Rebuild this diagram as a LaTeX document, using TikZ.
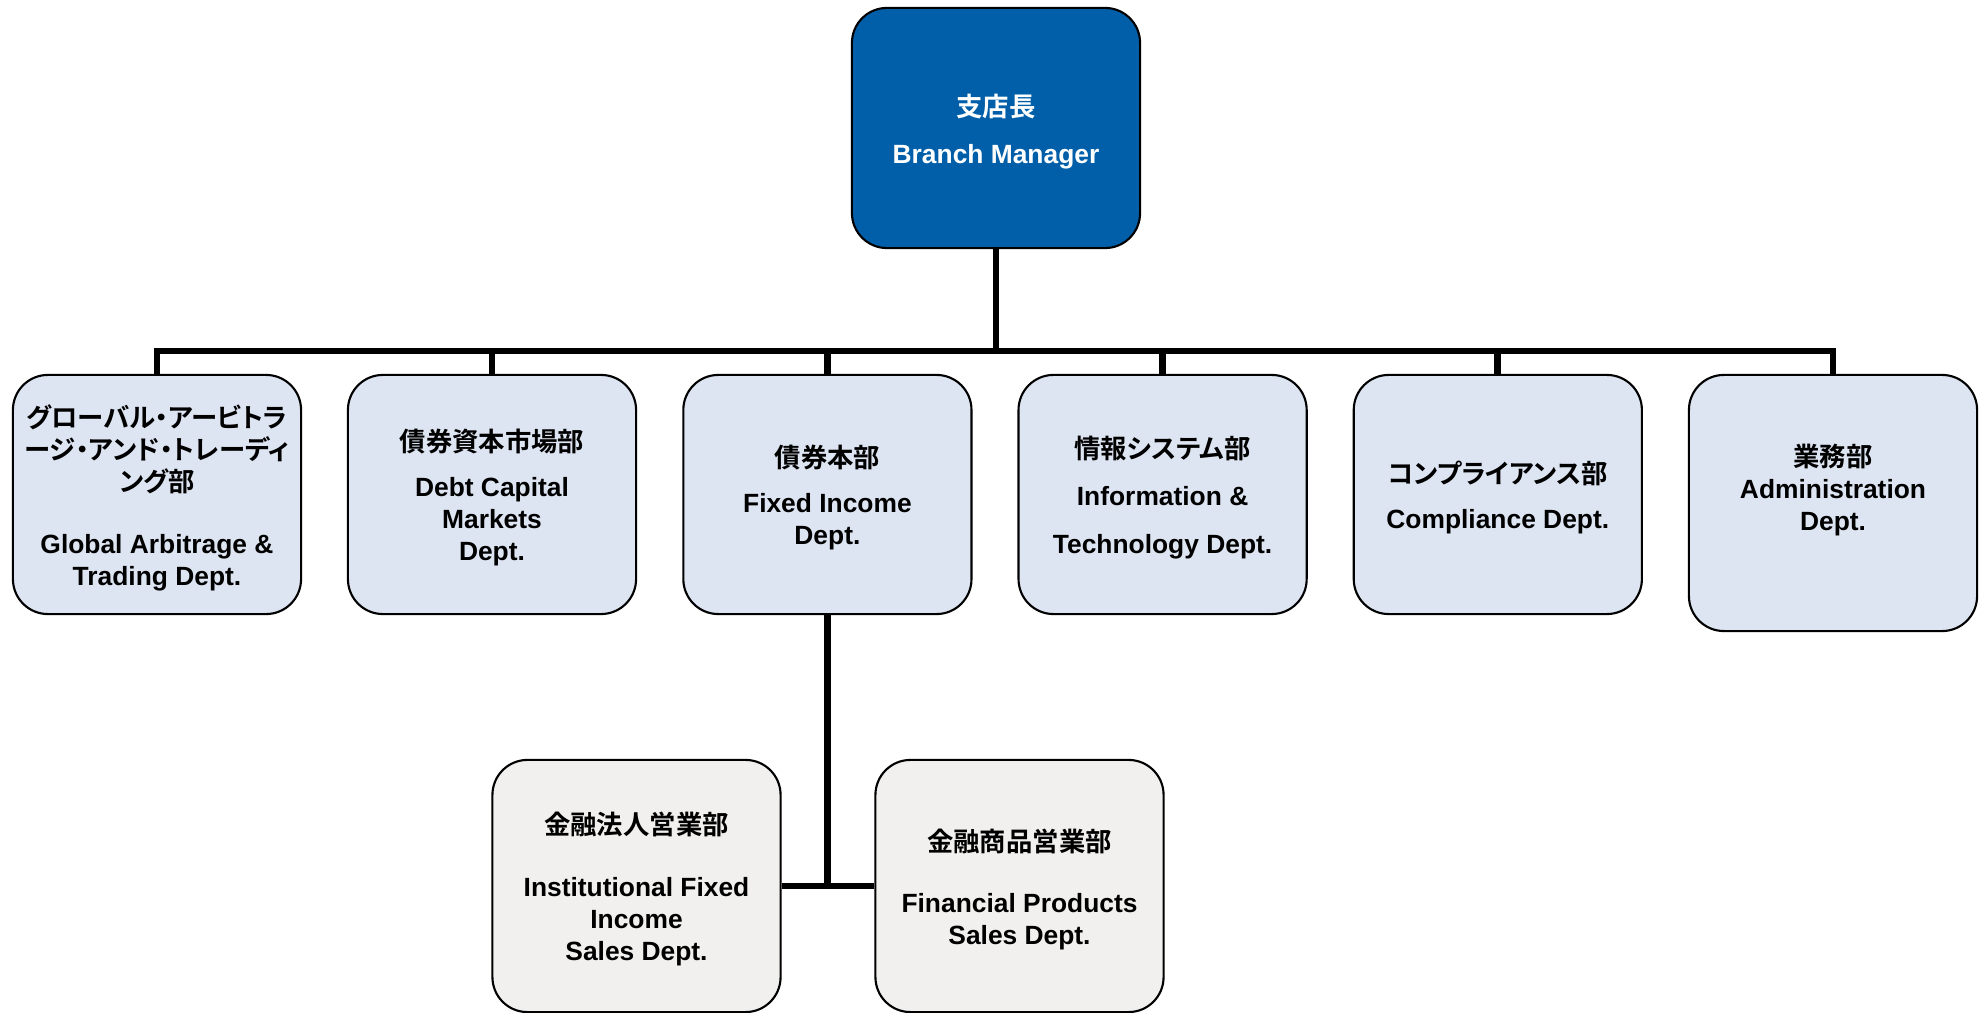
\documentclass[tikz,border=0pt]{standalone}
\usepackage{fontspec}
\setmainfont{Liberation Sans}
\newfontfamily\jp{Noto Sans CJK JP}[RawFeature=+palt, BoldFont={Noto Sans CJK JP Bold}]
\usepackage{xcolor}
\usepackage{tikz}
\usetikzlibrary{positioning}

\definecolor{mgrblue}{RGB}{0,95,168}
\definecolor{deptblue}{RGB}{222,229,242}
\definecolor{salesgray}{RGB}{241,240,239}
\newcommand{\jl}[1]{{\jp #1}}
\newcommand{\jf}[1]{{\jp\rule{0pt}{8.2pt}#1}}

\tikzset{
    box/.style={draw=black, line width=0.6pt, rounded corners=0.35cm, minimum width=2.88cm, minimum height=2.39cm, inner sep=1pt, align=center, font=\bfseries\fontsize{7.5}{9.1}\selectfont},
    dept/.style={box, fill=deptblue},
    sales/.style={box, fill=salesgray, minimum height=2.52cm},
    link/.style={line width=1.9pt, line join=miter}
}

\begin{document}
\begin{tikzpicture}[x=0.01cm, y=-0.01cm]
    \useasboundingbox (0,0) rectangle (1982,1013);
    \coordinate (bus) at (0,351);
    \node[box, fill=mgrblue, text=white, minimum height=2.40cm] (mgr) at (996,128) {\jf{支店長}\\[0.15cm]Branch Manager};
    \node[dept] (gat) at (157,494.5) {\jf{グローバル・アービトラ}\\\jl{ージ・アンド・トレーディ}\\\jl{ング部}\\[0.30cm]Global Arbitrage \&\\Trading Dept.};
    \node[dept] (dcm) at (492,494.5) {\jf{債券資本市場部}\\[0.13cm]Debt Capital\\Markets\\Dept.};
    \node[dept] (fid) at (827.4,494.5) {\jf{債券本部}\\[0.13cm]Fixed Income\\Dept.};
    \node[dept] (itd) at (1162.6,494.5) {\jf{情報システム部}\\[0.15cm]Information \&\\[0.16cm]Technology Dept.};
    \node[dept] (cmp) at (1497.8,494.5) {\jf{コンプライアンス部}\\[0.13cm]Compliance Dept.};
    \node[dept, minimum height=2.56cm] (adm) at (1833,503) {\jf{業務部}\\Administration\\Dept.\\[0.05cm]};
    \node[sales] (ifs) at (636.5,886) {\jf{金融法人営業部}\\[0.30cm]Institutional Fixed\\Income\\Sales Dept.};
    \node[sales] (fps) at (1019.5,886) {\jf{金融商品営業部}\\[0.29cm]Financial Products\\Sales Dept.};
    \draw[link] (mgr.south) -- (mgr.south |- bus);
    \draw[link] (gat.north) -- (gat.north |- bus) -- (adm.north |- bus) -- (adm.north);
    \foreach \d in {dcm, fid, itd, cmp}
        \draw[link] (\d.north) -- (\d.north |- bus);
    \draw[link] (fid.south) -- (fid.south |- ifs.east);
    \draw[link] (ifs.east) -- (fps.west);
\end{tikzpicture}
\end{document}
